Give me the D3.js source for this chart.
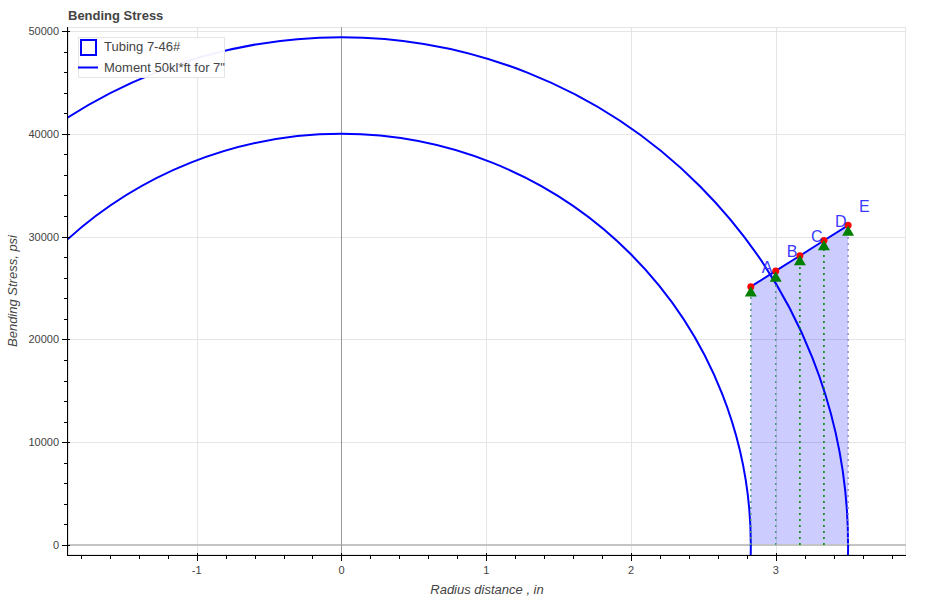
<!DOCTYPE html>
<html><head><meta charset="utf-8">
<script src="https://cdn.jsdelivr.net/npm/d3@7"></script>
<style>
body{margin:0;background:#fff;}
text{font-family:"Liberation Sans",Arial,Helvetica,sans-serif;}
</style></head>
<body><svg id="c" width="936" height="600"></svg>
<script>
// ---- data ----
const titleText = "Bending Stress";
const xLabel = "Radius distance , in";
const yLabel = "Bending Stress, psi";
const xTicks = [-1, 0, 1, 2, 3];
const yTicks = [0, 10000, 20000, 30000, 40000, 50000];
const xDomain = [-1.889, 3.90];
const yDomain = [-970, 50390];
const tubingRadii = [3.5, 2.828];          // half-widths of the tubing ellipses (in)
const tubingPeaks = [49400, 40000];        // half-heights (psi)
const radiusPts = [2.828, 3.0, 3.167, 3.333, 3.5];
const stressPts = [25130, 26660, 28140, 29620, 31100];
const markerStress = [24500, 25950, 27550, 29000, 30420];
const pointLabels = ["A", "B", "C", "D", "E"];
const dotColors = ["#4f9a78", "#4f9a78", "#008000", "#008000", "#8c8cc8"];
const legendItems = ["Tubing 7-46#", "Moment 50kl*ft for 7\""];

// ---- layout ----
const svg = d3.select("#c");
const L = 68, T = 27, R = 906, B = 555;
const x = d3.scaleLinear().domain(xDomain).range([L, R]);
const y = d3.scaleLinear().domain(yDomain).range([B, T]);

svg.append("defs").append("clipPath").attr("id", "clip")
  .append("rect").attr("x", L).attr("y", T).attr("width", R - L).attr("height", B - T);

// frame outline
svg.append("rect").attr("x", L + 0.5).attr("y", T + 0.5).attr("width", R - L - 1).attr("height", B - T - 1)
  .attr("fill", "none").attr("stroke", "#e5e5e5");

// grid
const g = svg.append("g");
g.selectAll(".gx").data(xTicks).join("line")
  .attr("x1", d => Math.round(x(d)) + 0.5).attr("x2", d => Math.round(x(d)) + 0.5)
  .attr("y1", T).attr("y2", B).attr("stroke", "#e5e5e5");
g.selectAll(".gy").data(yTicks).join("line")
  .attr("y1", d => Math.round(y(d)) + 0.5).attr("y2", d => Math.round(y(d)) + 0.5)
  .attr("x1", L).attr("x2", R).attr("stroke", "#e5e5e5");

const p = svg.append("g").attr("clip-path", "url(#clip)");

// shaded area under the moment line
const area = d3.area().x(d => x(d[0])).y0(y(0)).y1(d => y(d[1]));
p.append("path").datum(radiusPts.map((r, i) => [r, stressPts[i]]))
  .attr("d", area).attr("fill", "blue").attr("fill-opacity", 0.2);

// axis spans at 0
p.append("line").attr("x1", L).attr("x2", R).attr("y1", y(0)).attr("y2", y(0))
  .attr("stroke", "#c4c4c4").attr("stroke-width", 2);
p.append("line").attr("x1", Math.round(x(0)) + 0.5).attr("x2", Math.round(x(0)) + 0.5).attr("y1", T).attr("y2", B)
  .attr("stroke", "#999").attr("stroke-width", 1);

// tubing ellipses
p.selectAll(".ell").data(tubingRadii).join("ellipse")
  .attr("cx", x(0)).attr("cy", y(0))
  .attr("rx", d => x(d) - x(0))
  .attr("ry", (d, i) => y(0) - y(tubingPeaks[i]))
  .attr("fill", "none").attr("stroke", "blue").attr("stroke-width", 2);

// dotted verticals
p.selectAll(".vd").data(radiusPts).join("line")
  .attr("x1", d => x(d)).attr("x2", d => x(d))
  .attr("y1", y(0)).attr("y2", (d, i) => y(markerStress[i]))
  .attr("stroke", (d, i) => dotColors[i]).attr("stroke-width", 1.5)
  .attr("stroke-dasharray", "2,4");

// moment line
p.append("path").datum(radiusPts.map((r, i) => [r, stressPts[i]]))
  .attr("d", d3.line().x(d => x(d[0])).y(d => y(d[1])))
  .attr("fill", "none").attr("stroke", "blue").attr("stroke-width", 2);

// red circles
p.selectAll(".rc").data(radiusPts).join("circle")
  .attr("cx", d => x(d)).attr("cy", (d, i) => y(stressPts[i])).attr("r", 3.5)
  .attr("fill", "red");

// green triangles
const tri = d3.symbol().type(d3.symbolTriangle).size(62);
p.selectAll(".tr").data(radiusPts).join("path")
  .attr("d", tri)
  .attr("transform", (d, i) => `translate(${x(d)},${y(markerStress[i])})`)
  .attr("fill", "green");

// labels
svg.selectAll(".lb").data(pointLabels).join("text")
  .attr("x", (d, i) => x(radiusPts[i]) + 11)
  .attr("y", (d, i) => y(stressPts[i]) - 13.5)
  .attr("fill", "#3a3aff").attr("font-size", 16).text(d => d);

// axes
const xAxis = svg.append("g");
xAxis.append("line").attr("x1", L).attr("x2", R).attr("y1", B + 0.5).attr("y2", B + 0.5).attr("stroke", "#000");
const xMinor = d3.range(-18, 40, 2).map(v => v / 10).filter(v => v >= xDomain[0] && v <= xDomain[1]);
xAxis.selectAll(".xm").data(xMinor).join("line")
  .attr("x1", d => Math.round(x(d)) + 0.5).attr("x2", d => Math.round(x(d)) + 0.5)
  .attr("y1", B).attr("y2", B + 4).attr("stroke", "#000");
xAxis.selectAll(".xM").data(xTicks).join("line")
  .attr("x1", d => Math.round(x(d)) + 0.5).attr("x2", d => Math.round(x(d)) + 0.5)
  .attr("y1", B - 2).attr("y2", B + 6).attr("stroke", "#000");
xAxis.selectAll(".xt").data(xTicks).join("text")
  .attr("x", d => x(d)).attr("y", B + 19).attr("text-anchor", "middle")
  .attr("font-size", 11).attr("fill", "#444").text(d => d);

const yAxis = svg.append("g");
yAxis.append("line").attr("x1", L - 0.5).attr("x2", L - 0.5).attr("y1", T).attr("y2", B + 1).attr("stroke", "#000");
const yMinor = d3.range(0, 51000, 2000).filter(v => v >= yDomain[0] && v <= yDomain[1]);
yAxis.selectAll(".ym").data(yMinor).join("line")
  .attr("y1", d => Math.round(y(d)) + 0.5).attr("y2", d => Math.round(y(d)) + 0.5)
  .attr("x1", L - 4).attr("x2", L).attr("stroke", "#000");
yAxis.selectAll(".yM").data(yTicks).join("line")
  .attr("y1", d => Math.round(y(d)) + 0.5).attr("y2", d => Math.round(y(d)) + 0.5)
  .attr("x1", L - 6).attr("x2", L + 2).attr("stroke", "#000");
yAxis.selectAll(".yt").data(yTicks).join("text")
  .attr("x", L - 9).attr("y", d => y(d) + 4).attr("text-anchor", "end")
  .attr("font-size", 11).attr("fill", "#444").text(d => d);

// axis titles
svg.append("text").attr("x", (L + R) / 2).attr("y", 594).attr("text-anchor", "middle")
  .attr("font-size", 13).attr("font-style", "italic").attr("fill", "#444").text(xLabel);
svg.append("text").attr("transform", `translate(17,${(T + B) / 2}) rotate(-90)`).attr("text-anchor", "middle")
  .attr("font-size", 13).attr("font-style", "italic").attr("fill", "#444").text(yLabel);

// title
svg.append("text").attr("x", L).attr("y", 20).attr("font-size", 13).attr("font-weight", "bold")
  .attr("fill", "#444").text(titleText);

// legend
const lg = svg.append("g");
lg.append("rect").attr("x", 78.5).attr("y", 37.5).attr("width", 146).attr("height", 40)
  .attr("fill", "#fff").attr("fill-opacity", 0.95).attr("stroke", "#e5e5e5");
lg.append("rect").attr("x", 81).attr("y", 40).attr("width", 15).attr("height", 15)
  .attr("fill", "none").attr("stroke", "blue").attr("stroke-width", 2);
lg.append("line").attr("x1", 78).attr("x2", 98).attr("y1", 67.5).attr("y2", 67.5)
  .attr("stroke", "blue").attr("stroke-width", 2);
lg.selectAll(".lt").data(legendItems).join("text")
  .attr("x", 104).attr("y", (d, i) => 51 + i * 21).attr("font-size", 13).attr("fill", "#444").text(d => d);
</script></body></html>
